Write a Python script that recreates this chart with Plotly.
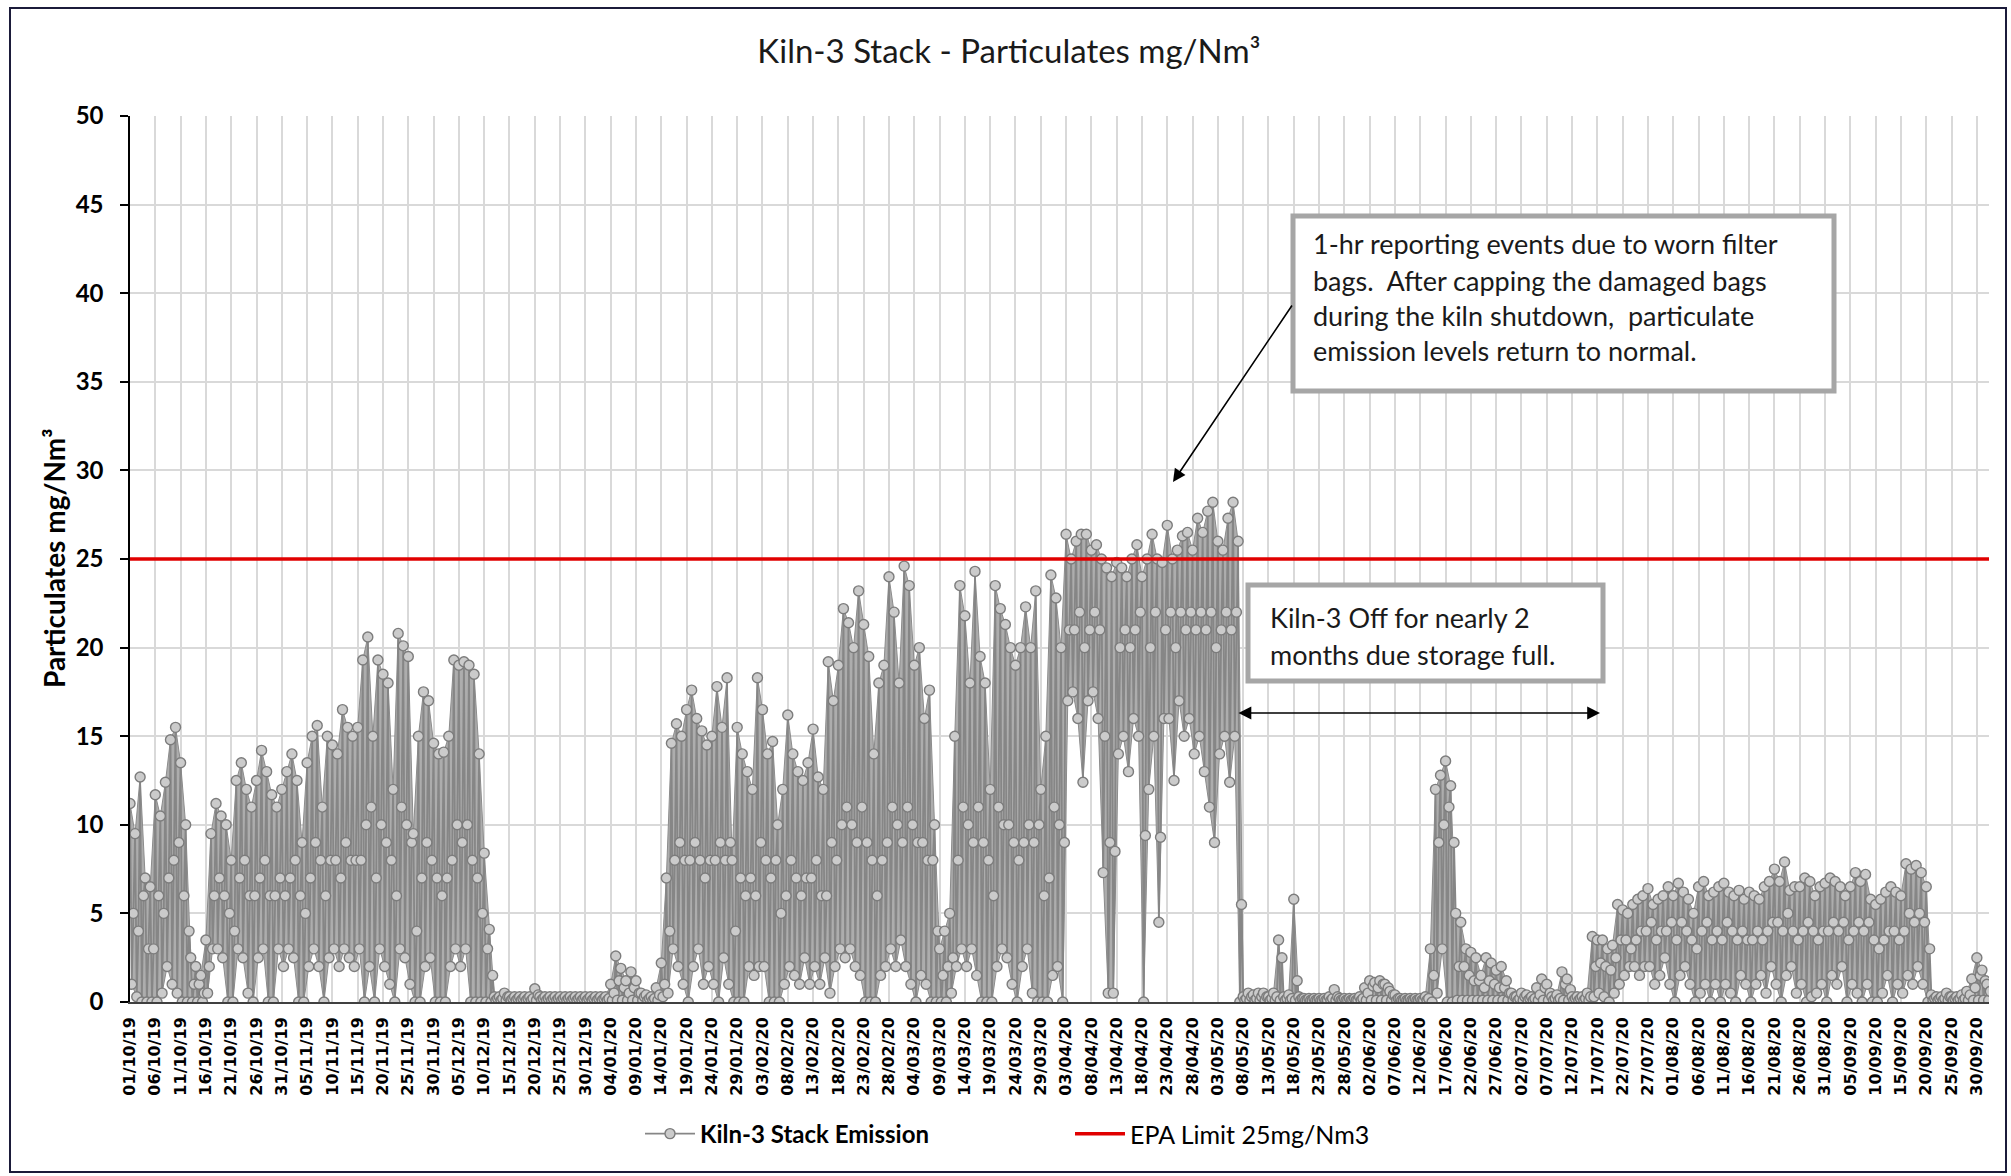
import pandas as pd
import plotly.graph_objects as go

# ---------------- data ----------------
START_DATE = "2019-10-01"
EPA_LIMIT = 25
SERIES_NAME = "Kiln-3 Stack Emission"
LIMIT_NAME = "EPA Limit 25mg/Nm3"
TITLE = "Kiln-3 Stack - Particulates mg/Nm³"
Y_TITLE = "Particulates mg/Nm³"

# daily peak values (one per day, 01/10/19 .. 02/10/20), rows = 5 days
day_high = [
    11.2, 9.5, 12.7, 7.0, 6.5,      # 01/10
    11.7, 10.5, 12.4, 14.8, 15.5,   # 06/10
    13.5, 10.0, 2.5, 2.0, 1.5,      # 11/10
    3.5, 9.5, 11.2, 10.5, 10.0,     # 16/10
    8.0, 12.5, 13.5, 12.0, 11.0,    # 21/10
    12.5, 14.2, 13.0, 11.7, 11.0,   # 26/10
    12.0, 13.0, 14.0, 12.5, 9.0,    # 31/10
    13.5, 15.0, 15.6, 11.0, 15.0,   # 05/11
    14.5, 14.0, 16.5, 15.5, 15.0,   # 10/11
    15.5, 19.3, 20.6, 15.0, 19.3,   # 15/11
    18.5, 18.0, 12.0, 20.8, 20.1,   # 20/11
    19.5, 9.5, 15.0, 17.5, 17.0,    # 25/11
    14.6, 14.0, 14.1, 15.0, 19.3,   # 30/11
    19.0, 19.2, 19.0, 18.5, 14.0,   # 05/12
    8.4, 4.1, 0.3, 0.3, 0.5,        # 10/12
    0.3, 0.3, 0.3, 0.3, 0.3,        # 15/12
    0.75, 0.3, 0.3, 0.3, 0.3,       # 20/12
    0.3, 0.3, 0.3, 0.3, 0.3,        # 25/12
    0.3, 0.3, 0.3, 0.3, 0.3,        # 30/12
    1.0, 2.6, 1.9, 1.2, 1.7,        # 04/01
    1.2, 0.5, 0.4, 0.3, 0.8,        # 09/01
    2.2, 7.0, 14.6, 15.7, 15.0,     # 14/01
    16.5, 17.6, 16.0, 15.3, 14.5,   # 19/01
    15.0, 17.8, 15.5, 18.3, 8.0,    # 24/01
    15.5, 14.0, 13.0, 12.0, 18.3,   # 29/01
    16.5, 14.0, 14.7, 10.0, 12.0,   # 03/02
    16.2, 14.0, 13.0, 12.5, 13.5,   # 08/02
    15.4, 12.7, 12.0, 19.2, 17.0,   # 13/02
    19.0, 22.2, 21.4, 20.0, 23.2,   # 18/02
    21.3, 19.5, 14.0, 18.0, 19.0,   # 23/02
    24.0, 22.0, 18.0, 24.6, 23.5,   # 28/02
    19.0, 20.0, 16.0, 17.6, 10.0,   # 04/03
    3.0, 4.0, 5.0, 15.0, 23.5,      # 09/03
    21.8, 18.0, 24.3, 19.5, 18.0,   # 14/03
    12.0, 23.5, 22.2, 21.3, 20.0,   # 19/03
    19.0, 20.0, 22.3, 20.0, 23.2,   # 24/03
    12.0, 15.0, 24.1, 22.8, 20.0,   # 29/03
    26.4, 25.0, 26.0, 26.4, 26.4,   # 03/04
    25.5, 25.8, 25.0, 24.5, 24.0,   # 08/04
    24.8, 24.5, 24.0, 25.0, 25.8,   # 13/04
    24.0, 25.0, 26.4, 25.0, 24.8,   # 18/04
    26.9, 25.0, 25.5, 26.3, 26.5,   # 23/04
    25.5, 27.3, 26.5, 27.7, 28.2,   # 28/04
    26.0, 25.5, 27.3, 28.2, 26.0,   # 03/05
    0.3, 0.5, 0.4, 0.5, 0.5,        # 08/05
    0.3, 0.5, 3.5, 0.3, 0.4,        # 13/05
    5.8, 0.3, 0.2, 0.2, 0.2,        # 18/05
    0.2, 0.2, 0.3, 0.7, 0.2,        # 23/05
    0.2, 0.2, 0.2, 0.3, 0.8,        # 28/05
    1.2, 1.1, 1.2, 1.0, 0.6,        # 02/06
    0.4, 0.2, 0.2, 0.2, 0.2,        # 07/06
    0.2, 0.3, 3.0, 12.0, 12.8,      # 12/06
    13.6, 12.2, 5.0, 4.5, 3.0,      # 17/06
    2.8, 2.5, 1.5, 2.5, 2.2,        # 22/06
    1.8, 2.0, 1.2, 0.5, 0.3,        # 27/06
    0.5, 0.4, 0.3, 0.8, 1.3,        # 02/07
    1.0, 0.3, 0.4, 1.7, 1.3,        # 07/07
    0.3, 0.3, 0.3, 0.5, 3.7,        # 12/07
    3.5, 3.5, 3.0, 3.2, 5.5,        # 17/07
    5.2, 5.0, 5.5, 5.8, 6.0,        # 22/07
    6.4, 5.5, 5.8, 6.0, 6.5,        # 27/07
    6.0, 6.7, 6.2, 5.8, 5.0,        # 01/08
    6.5, 6.8, 6.0, 6.2, 6.5,        # 06/08
    6.7, 6.2, 6.0, 6.3, 5.8,        # 11/08
    6.2, 6.0, 5.8, 6.5, 6.8,        # 16/08
    7.5, 6.8, 7.9, 6.3, 6.5,        # 21/08
    6.5, 7.0, 6.8, 6.0, 6.5,        # 26/08
    6.7, 7.0, 6.8, 6.5, 6.0,        # 31/08
    6.5, 7.3, 6.8, 7.2, 5.8,        # 05/09
    5.5, 5.8, 6.2, 6.5, 6.2,        # 10/09
    6.0, 7.8, 7.5, 7.7, 7.3,        # 15/09
    6.5, 0.4, 0.3, 0.3, 0.5,        # 20/09
    0.3, 0.3, 0.4, 0.6, 1.3,        # 25/09
    2.5, 1.8, 1.0,                  # 30/09
]

# daily low values
day_low = [
    1.0, 0.3, 0.0, 0.0, 0.0,        # 01/10
    0.0, 0.5, 2.0, 1.0, 0.5,        # 06/10
    0.0, 0.0, 0.0, 0.0, 0.0,        # 11/10
    0.5, 3.0, 3.0, 2.5, 0.0,        # 16/10
    0.0, 3.0, 2.5, 0.5, 0.0,        # 21/10
    2.5, 3.0, 0.0, 0.0, 3.0,        # 26/10
    2.0, 3.0, 2.5, 0.0, 0.0,        # 31/10
    2.0, 3.0, 2.0, 0.0, 2.5,        # 05/11
    3.0, 2.0, 3.0, 2.5, 2.0,        # 10/11
    3.0, 0.0, 2.0, 0.0, 3.0,        # 15/11
    2.0, 1.0, 0.0, 3.0, 2.5,        # 20/11
    1.0, 0.0, 0.0, 2.0, 2.5,        # 25/11
    0.0, 0.0, 0.0, 2.0, 3.0,        # 30/11
    2.0, 3.0, 0.0, 0.0, 0.0,        # 05/12
    0.0, 0.0, 0.1, 0.1, 0.1,        # 10/12
    0.1, 0.1, 0.1, 0.1, 0.1,        # 15/12
    0.1, 0.1, 0.1, 0.1, 0.1,        # 20/12
    0.1, 0.1, 0.1, 0.1, 0.1,        # 25/12
    0.1, 0.1, 0.1, 0.1, 0.1,        # 30/12
    0.1, 0.1, 0.1, 0.1, 0.1,        # 04/01
    0.1, 0.1, 0.1, 0.1, 0.1,        # 09/01
    0.3, 0.5, 3.0, 2.0, 1.0,        # 14/01
    0.0, 2.0, 3.0, 1.0, 2.0,        # 19/01
    1.0, 0.0, 2.5, 1.0, 0.0,        # 24/01
    0.0, 0.0, 2.0, 1.5, 2.0,        # 29/01
    2.0, 0.0, 0.0, 0.0, 1.0,        # 03/02
    2.0, 1.5, 1.0, 2.5, 1.0,        # 08/02
    2.0, 1.0, 2.5, 0.5, 2.0,        # 13/02
    3.0, 2.5, 3.0, 2.0, 1.5,        # 18/02
    0.0, 0.0, 0.0, 1.5, 2.0,        # 23/02
    3.0, 2.0, 3.5, 2.0, 1.0,        # 28/02
    0.0, 1.5, 1.0, 0.0, 0.0,        # 04/03
    0.0, 0.0, 0.5, 2.0, 3.0,        # 09/03
    2.0, 3.0, 1.5, 0.0, 0.0,        # 14/03
    0.0, 2.0, 3.0, 2.5, 1.0,        # 19/03
    0.0, 2.0, 3.0, 0.5, 0.0,        # 24/03
    0.0, 0.0, 1.5, 2.0, 0.0,        # 29/03
    17.0, 17.5, 16.0, 12.4, 17.0,   # 03/04
    17.5, 16.0, 7.3, 0.5, 0.5,      # 08/04
    14.0, 15.0, 13.0, 16.0, 15.0,   # 13/04
    0.0, 12.0, 15.0, 4.5, 16.0,     # 18/04
    16.0, 12.5, 17.0, 15.0, 16.0,   # 23/04
    14.0, 15.0, 13.0, 11.0, 9.0,    # 28/04
    14.0, 15.0, 12.4, 15.0, 0.0,    # 03/05
    0.1, 0.1, 0.1, 0.1, 0.1,        # 08/05
    0.1, 0.1, 0.1, 0.1, 0.1,        # 13/05
    0.1, 0.1, 0.1, 0.1, 0.1,        # 18/05
    0.1, 0.1, 0.1, 0.1, 0.1,        # 23/05
    0.1, 0.1, 0.1, 0.1, 0.1,        # 28/05
    0.1, 0.1, 0.1, 0.1, 0.1,        # 02/06
    0.1, 0.1, 0.1, 0.1, 0.1,        # 07/06
    0.1, 0.1, 0.0, 0.5, 3.0,        # 12/06
    0.0, 0.0, 0.1, 0.1, 0.1,        # 17/06
    0.1, 0.1, 0.1, 0.1, 0.1,        # 22/06
    0.1, 0.1, 0.1, 0.1, 0.1,        # 27/06
    0.1, 0.1, 0.1, 0.1, 0.1,        # 02/07
    0.1, 0.1, 0.1, 0.1, 0.1,        # 07/07
    0.1, 0.1, 0.1, 0.1, 0.3,        # 12/07
    0.5, 0.3, 0.0, 0.5, 1.0,        # 17/07
    1.5, 2.0, 2.0, 1.5, 2.0,        # 22/07
    2.0, 1.0, 1.5, 2.5, 1.0,        # 27/07
    0.0, 1.5, 2.0, 1.0, 0.0,        # 01/08
    0.5, 1.0, 0.0, 1.0, 0.0,        # 06/08
    1.0, 0.5, 0.0, 1.5, 1.0,        # 11/08
    0.0, 1.0, 1.5, 0.5, 2.0,        # 16/08
    1.0, 0.0, 1.5, 2.0, 0.5,        # 21/08
    1.0, 0.0, 0.3, 0.5, 1.0,        # 26/08
    0.0, 1.5, 1.0, 2.0, 0.0,        # 31/08
    1.0, 0.5, 0.0, 1.0, 0.0,        # 05/09
    0.0, 0.5, 1.5, 0.0, 1.0,        # 10/09
    0.5, 1.5, 1.0, 2.0, 1.0,        # 15/09
    0.0, 0.1, 0.1, 0.1, 0.1,        # 20/09
    0.1, 0.1, 0.1, 0.1, 0.1,        # 25/09
    0.1, 0.1, 0.1,                  # 30/09
]

# typical mid-level reading of each day
day_mid = [
    5.0, 4.0, 6.0, 3.0, 3.0,        # 01/10
    6.0, 5.0, 7.0, 8.0, 9.0,        # 06/10
    6.0, 4.0, 1.0, 1.0, 0.5,        # 11/10
    2.0, 6.0, 7.0, 6.0, 5.0,        # 16/10
    4.0, 7.0, 8.0, 6.0, 6.0,        # 21/10
    7.0, 8.0, 6.0, 6.0, 7.0,        # 26/10
    6.0, 7.0, 8.0, 6.0, 5.0,        # 31/10
    7.0, 9.0, 8.0, 6.0, 8.0,        # 05/11
    8.0, 7.0, 9.0, 8.0, 8.0,        # 10/11
    8.0, 10.0, 11.0, 7.0, 10.0,     # 15/11
    9.0, 8.0, 6.0, 11.0, 10.0,      # 20/11
    9.0, 4.0, 7.0, 9.0, 8.0,        # 25/11
    7.0, 6.0, 7.0, 8.0, 10.0,       # 30/11
    9.0, 10.0, 8.0, 7.0, 5.0,       # 05/12
    3.0, 1.5, 0.2, 0.2, 0.3,        # 10/12
    0.2, 0.2, 0.2, 0.2, 0.2,        # 15/12
    0.4, 0.2, 0.2, 0.2, 0.2,        # 20/12
    0.2, 0.2, 0.2, 0.2, 0.2,        # 25/12
    0.2, 0.2, 0.2, 0.2, 0.2,        # 30/12
    0.5, 1.2, 0.8, 0.5, 0.8,        # 04/01
    0.5, 0.3, 0.2, 0.2, 0.4,        # 09/01
    1.0, 4.0, 8.0, 9.0, 8.0,        # 14/01
    8.0, 9.0, 8.0, 7.0, 8.0,        # 19/01
    8.0, 9.0, 8.0, 9.0, 4.0,        # 24/01
    7.0, 6.0, 7.0, 6.0, 9.0,        # 29/01
    8.0, 7.0, 8.0, 5.0, 6.0,        # 03/02
    8.0, 7.0, 6.0, 7.0, 7.0,        # 08/02
    8.0, 6.0, 6.0, 9.0, 8.0,        # 13/02
    10.0, 11.0, 10.0, 9.0, 11.0,    # 18/02
    9.0, 8.0, 6.0, 8.0, 9.0,        # 23/02
    11.0, 10.0, 9.0, 11.0, 10.0,    # 28/02
    9.0, 9.0, 8.0, 8.0, 4.0,        # 04/03
    1.5, 2.0, 2.5, 8.0, 11.0,       # 09/03
    10.0, 9.0, 11.0, 9.0, 8.0,      # 14/03
    6.0, 11.0, 10.0, 10.0, 9.0,     # 19/03
    8.0, 9.0, 10.0, 9.0, 10.0,      # 24/03
    6.0, 7.0, 11.0, 10.0, 9.0,      # 29/03
    21.0, 21.0, 22.0, 20.0, 21.0,   # 03/04
    22.0, 21.0, 15.0, 9.0, 8.5,     # 08/04
    20.0, 21.0, 20.0, 21.0, 22.0,   # 13/04
    9.4, 20.0, 22.0, 9.3, 21.0,     # 18/04
    22.0, 20.0, 22.0, 21.0, 22.0,   # 23/04
    21.0, 22.0, 21.0, 22.0, 20.0,   # 28/04
    21.0, 22.0, 21.0, 22.0, 5.5,    # 03/05
    0.2, 0.3, 0.2, 0.3, 0.3,        # 08/05
    0.2, 0.3, 2.5, 0.2, 0.2,        # 13/05
    1.2, 0.2, 0.1, 0.1, 0.1,        # 18/05
    0.1, 0.1, 0.2, 0.3, 0.1,        # 23/05
    0.1, 0.1, 0.1, 0.2, 0.5,        # 28/05
    0.9, 0.8, 1.0, 0.8, 0.4,        # 02/06
    0.2, 0.1, 0.1, 0.1, 0.1,        # 07/06
    0.1, 0.2, 1.5, 9.0, 10.0,       # 12/06
    11.0, 9.0, 2.0, 2.0, 1.5,       # 17/06
    1.2, 1.2, 0.8, 1.2, 1.0,        # 22/06
    0.8, 0.8, 0.5, 0.3, 0.2,        # 27/06
    0.3, 0.2, 0.2, 0.4, 0.8,        # 02/07
    0.5, 0.2, 0.2, 1.0, 0.7,        # 07/07
    0.2, 0.2, 0.2, 0.3, 2.0,        # 12/07
    2.2, 2.0, 1.8, 2.5, 3.5,        # 17/07
    3.5, 3.0, 3.5, 4.0, 4.0,        # 22/07
    4.5, 3.5, 4.0, 4.0, 4.5,        # 27/07
    3.5, 4.5, 4.0, 3.5, 3.0,        # 01/08
    4.0, 4.5, 3.5, 4.0, 3.5,        # 06/08
    4.5, 4.0, 3.5, 4.0, 3.5,        # 11/08
    3.5, 4.0, 3.5, 4.0, 4.5,        # 16/08
    4.5, 4.0, 5.0, 4.0, 3.5,        # 21/08
    4.0, 4.5, 4.0, 3.5, 4.0,        # 26/08
    4.0, 4.5, 4.0, 4.5, 3.5,        # 31/08
    4.0, 4.5, 4.0, 4.5, 3.5,        # 05/09
    3.0, 3.5, 4.0, 4.0, 3.5,        # 10/09
    4.0, 5.0, 4.5, 5.0, 4.5,        # 15/09
    3.0, 0.2, 0.2, 0.2, 0.3,        # 20/09
    0.2, 0.2, 0.2, 0.4, 0.8,        # 25/09
    1.5, 1.2, 0.6,                  # 30/09
]

assert len(day_high) == len(day_low) == len(day_mid) == 368, (len(day_high), len(day_low), len(day_mid))

# ---------------- build series (3 readings per day) ----------------
start = pd.Timestamp(START_DATE)
xs, ys = [], []
for d, (hi, lo, mid) in enumerate(zip(day_high, day_low, day_mid)):
    for k, v in enumerate((hi, lo, mid)):
        xs.append(start + pd.Timedelta(days=d, hours=8 * k))
        ys.append(v)

# daily envelope (dense hourly readings between each day's low and high)
env_x_hi = [start + pd.Timedelta(days=d) for d in range(len(day_high))]
env_x_lo = [start + pd.Timedelta(days=d, hours=8) for d in range(len(day_low))]
env_x = env_x_hi + env_x_lo[::-1]
env_y = list(day_high) + list(day_low)[::-1]

X_SPAN_DAYS = 367.4
x_end = start + pd.Timedelta(days=X_SPAN_DAYS)
Y_MAX = 50

# ---------------- geometry helpers (page pixels -> paper) ----------------
FIG_W, FIG_H = 2011, 1176
L, R, T, B = 130, 1989, 116, 1002


def px(x):
    return (x - L) / (R - L)


def py(y):
    return (B - y) / (B - T)


def xdate(xpix):
    return start + pd.Timedelta(days=(xpix - L) / (R - L) * X_SPAN_DAYS)


def yval(ypix):
    return (B - ypix) / (B - T) * Y_MAX


fig = go.Figure()
fig.add_trace(go.Scatter(
    x=env_x, y=env_y, mode="lines", fill="toself",
    fillcolor="#adadad", line=dict(color="#8c8c8c", width=1),
    showlegend=False, hoverinfo="skip",
))
fig.add_trace(go.Scatter(
    x=xs, y=ys, mode="lines+markers", name="<b>" + SERIES_NAME + "</b>",
    line=dict(color="#868686", width=1.8),
    marker=dict(size=10, color="#cbcbcb", line=dict(color="#7c7c7c", width=1.4)),
    legend="legend",
))
fig.add_trace(go.Scatter(
    x=[start, x_end], y=[EPA_LIMIT, EPA_LIMIT], mode="lines", name=LIMIT_NAME,
    line=dict(color="#e00000", width=3.5),
    legend="legend2",
))

FONT = "Lato, 'Open Sans', sans-serif"

fig.update_layout(
    width=FIG_W, height=FIG_H,
    margin=dict(l=L, r=FIG_W - R, t=T, b=FIG_H - B, pad=0),
    paper_bgcolor="white", plot_bgcolor="white",
    font=dict(family=FONT, color="#000000"),
    title=dict(text=TITLE, xref="container", yref="container",
               x=1009 / FIG_W, y=1 - 51 / FIG_H, xanchor="center", yanchor="middle",
               font=dict(size=33, family=FONT, color="#1a1a1a")),
    xaxis=dict(
        type="date", range=[start, x_end],
        tick0=start, dtick=5 * 86400000, tickformat="%d/%m/%y", tickangle=-90,
        tickfont=dict(family="DejaVu Sans", size=16, weight="bold", color="#000000"),
        showgrid=True, gridcolor="#d9d9d9", gridwidth=2,
        showline=True, linecolor="#404040", linewidth=1.5,
        ticks="outside", ticklen=7, tickcolor="rgba(0,0,0,0)",
        zeroline=False,
    ),
    yaxis=dict(
        range=[0, Y_MAX], dtick=5, tick0=0,
        tickfont=dict(family=FONT, size=24, weight="bold", color="#000000"),
        showgrid=True, gridcolor="#d9d9d9", gridwidth=2,
        showline=True, linecolor="#000000", linewidth=2,
        ticks="outside", ticklen=8, tickwidth=2, tickcolor="#000000",
        ticksuffix="  ", zeroline=False,
    ),
    legend=dict(orientation="h", x=px(640), y=py(1134), xanchor="left", yanchor="middle",
                itemwidth=50, font=dict(size=24, family=FONT, color="#000000"),
                bgcolor="rgba(0,0,0,0)"),
    legend2=dict(orientation="h", x=px(1070), y=py(1134), xanchor="left", yanchor="middle",
                 itemwidth=50, font=dict(size=25, family=FONT, color="#000000"),
                 bgcolor="rgba(0,0,0,0)"),
    showlegend=True,
)

# outer chart frame + note boxes
fig.add_shape(type="rect", xref="paper", yref="paper",
              x0=px(10), x1=px(2006), y0=py(1172), y1=py(8),
              line=dict(color="#1b1b3a", width=2), fillcolor="rgba(0,0,0,0)", layer="above")
fig.add_shape(type="rect", xref="paper", yref="paper",
              x0=px(1293), x1=px(1834), y0=py(391), y1=py(216),
              line=dict(color="#a6a6a6", width=5), fillcolor="white", layer="above")
fig.add_shape(type="rect", xref="paper", yref="paper",
              x0=px(1248), x1=px(1603), y0=py(681), y1=py(585),
              line=dict(color="#a6a6a6", width=5), fillcolor="white", layer="above")

note1 = ["1-hr reporting events due to worn filter",
         "bags.\u00a0 After capping the damaged bags",
         "during the kiln shutdown,\u00a0 particulate",
         "emission levels return to normal."]
note1_y = [244, 280, 315, 350]
for line, yy in zip(note1, note1_y):
    fig.add_annotation(text=line, xref="paper", yref="paper", x=px(1311), y=py(yy),
                       xanchor="left", yanchor="middle", showarrow=False,
                       font=dict(size=27, family=FONT, color="#1a1a1a"))

note2 = ["Kiln-3 Off for nearly 2", "months due storage full."]
note2_y = [617, 654]
for line, yy in zip(note2, note2_y):
    fig.add_annotation(text=line, xref="paper", yref="paper", x=px(1268), y=py(yy),
                       xanchor="left", yanchor="middle", showarrow=False,
                       font=dict(size=27, family=FONT, color="#1a1a1a"))

# arrows
fig.add_annotation(x=xdate(1173), y=yval(482), xref="x", yref="y", text="",
                   showarrow=True, ax=1293 - 1173, ay=304 - 482,
                   arrowhead=2, arrowsize=1.6, arrowwidth=1.6, arrowcolor="#000000", standoff=0)
fig.add_annotation(x=xdate(1600), y=yval(713), xref="x", yref="y", text="",
                   showarrow=True, ax=1237 - 1600, ay=0, arrowside="end+start",
                   arrowhead=2, arrowsize=1.6, arrowwidth=1.6, arrowcolor="#000000", standoff=0,
                   startstandoff=0)

# y-axis title
fig.add_annotation(text="<b>" + Y_TITLE + "</b>", xref="paper", yref="paper",
                   x=px(54), y=py(558), textangle=-90, showarrow=False,
                   xanchor="center", yanchor="middle",
                   font=dict(size=28, family=FONT, color="#000000"))

fig.write_html("out.html", config={"displayModeBar": False},
               post_script="document.body.style.margin='0';document.body.style.overflow='hidden';")
